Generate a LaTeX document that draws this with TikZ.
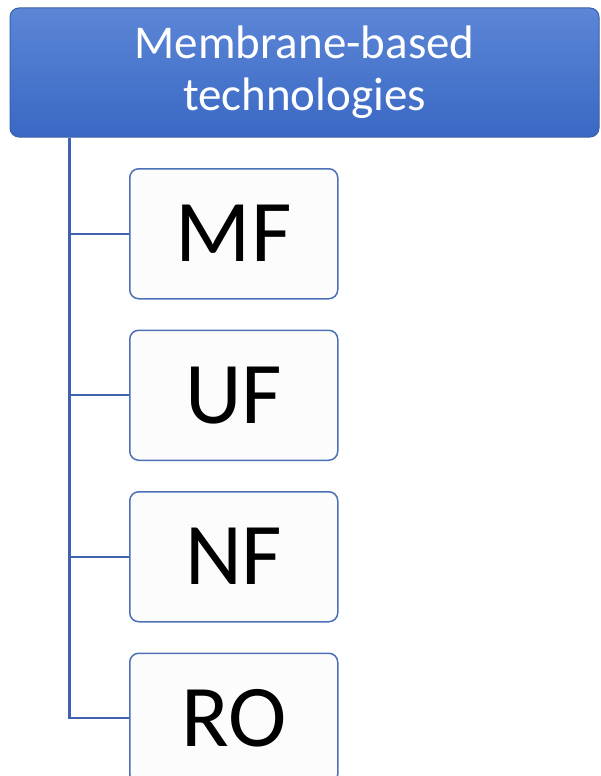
\documentclass[tikz,border=0pt]{standalone}
\usepackage{fontspec}
\setmainfont{Carlito}
\usetikzlibrary{positioning}
\definecolor{headtop}{HTML}{5C86D6}
\definecolor{headbottom}{HTML}{3968C4}
\definecolor{headedge}{HTML}{3A5FA8}
\definecolor{linkblue}{HTML}{3F62AE}
\definecolor{boxedge}{HTML}{4C71B6}
\definecolor{boxfill}{HTML}{FCFCFC}

\begin{document}
\begin{tikzpicture}[
  x=1pt, y=-1pt,
  every node/.style = {shape=rectangle, rounded corners=9pt, align=center, inner sep=0pt},
  headbox/.style = {minimum width=589pt, minimum height=129pt, draw=headedge, line width=1pt,
    top color=headtop, bottom color=headbottom, text=white,
    font=\fontsize{47}{52}\selectfont},
  techbox/.style = {minimum width=208pt, minimum height=130pt, draw=boxedge, line width=1.5pt,
    fill=boxfill, font=\fontsize{88}{100}\selectfont},
  link/.style = {draw=linkblue, line width=2.2pt}
]
  \useasboundingbox (0,0) rectangle (600,776);
  \node[headbox] (tech) at (304.5,72.5) {Membrane-based\\technologies};

  \node[techbox, anchor=north west] (mf) at (129,168) {MF};
  \node[techbox, below=30pt of mf] (uf) {UF};
  \node[techbox, below=30pt of uf] (nf) {NF};
  \node[techbox, below=30pt of nf] (ro) {RO};

  % trunk and branches
  \coordinate (trunk) at ([xshift=60pt]tech.south west);
  \draw[link] (trunk) |- (ro.west);
  \foreach \n in {mf,uf,nf}
    \draw[link] (trunk |- \n.west) -- (\n.west);
\end{tikzpicture}
\end{document}
